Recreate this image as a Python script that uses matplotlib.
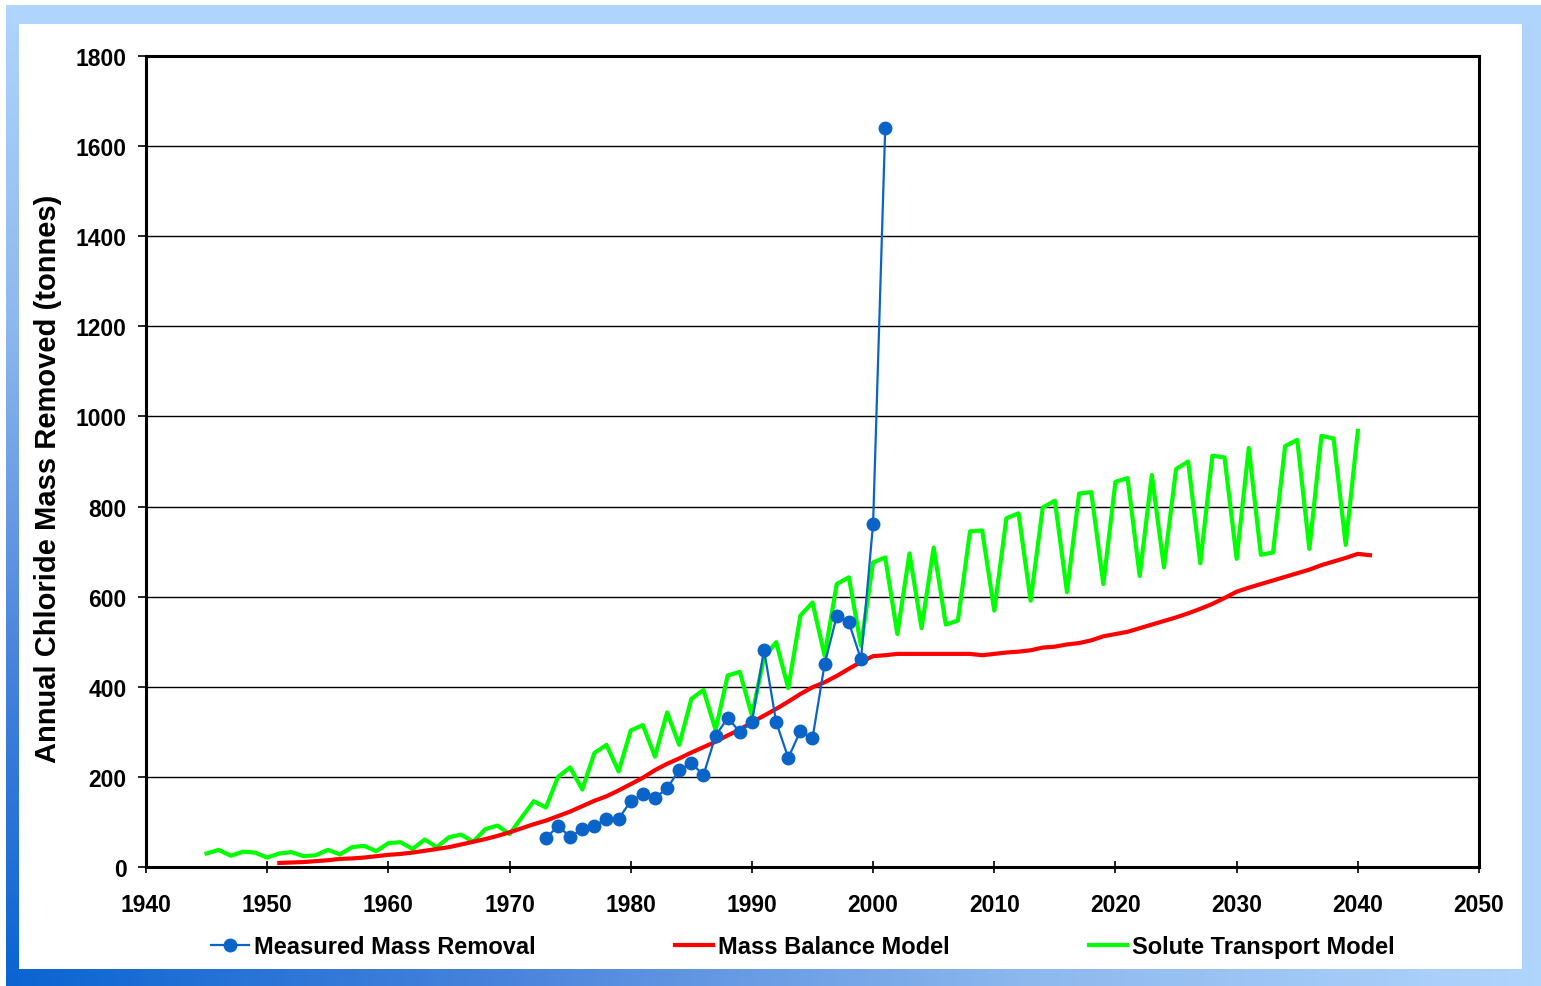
import numpy as np
import matplotlib
matplotlib.use("Agg")
import matplotlib.pyplot as plt
from matplotlib.colors import LinearSegmentedColormap
from matplotlib.patches import Rectangle

# ---- data (tonnes of chloride removed per year) ----
meas_years = list(range(1973, 2002))
meas_vals = [64, 91, 67, 84, 91, 107, 107, 146, 162, 153, 175, 215, 231, 204,
             291, 331, 300, 322, 482, 322, 242, 302, 286, 450, 557, 543, 461,
             762, 1640]

mb_years = list(range(1951, 2042))
mb_vals = [9, 10, 11, 13, 15, 18, 19, 21, 24, 27,
           29, 32, 36, 40, 44, 50, 56, 62, 69, 77,
           86, 95, 103, 113, 123, 135, 147, 157, 170, 184,
           198, 215, 229, 241, 254, 266, 278, 292, 305, 321,
           336, 351, 367, 384, 399, 410, 424, 440, 455, 468,
           470, 473, 473, 473, 473, 473, 473, 473, 470, 473,
           476, 478, 481, 487, 489, 494, 497, 503, 512, 517,
           522, 530, 538, 546, 554, 563, 573, 584, 597, 611,
           620, 628, 636, 644, 652, 660, 670, 678, 686, 695,
           692]

st_years = list(range(1945, 2041))
st_vals = [30, 38, 25, 34, 32, 21, 30, 33, 24, 26,
           38, 28, 44, 47, 35, 53, 55, 40, 61, 44,
           66, 72, 56, 84, 92, 73, 110, 146, 132, 200,
           221, 172, 253, 271, 212, 303, 315, 245, 343, 271,
           373, 393, 304, 425, 433, 336, 465, 499, 397, 558,
           587, 469, 628, 643, 491, 676, 687, 517, 696, 530,
           709, 538, 547, 745, 747, 569, 774, 785, 591, 798,
           813, 610, 829, 832, 628, 855, 863, 646, 870, 665,
           883, 900, 674, 913, 909, 684, 930, 693, 698, 934,
           948, 706, 957, 951, 715, 968]

plt.rcParams['font.family'] = ['Liberation Sans', 'DejaVu Sans']
plt.rcParams['font.weight'] = 'bold'

W, H = 1541, 987
fig = plt.figure(figsize=(W / 100, H / 100), dpi=100)

# ---- blue gradient frame ----
bg = fig.add_axes([0, 0, 1, 1])
xx, yy = np.meshgrid(np.linspace(0, 1, 400), np.linspace(1, 0, 260))
grad = np.maximum(xx, yy)
frame_cmap = LinearSegmentedColormap.from_list(
    'frame', ['#0A64D2', '#4A84DC', '#8DB8EE', '#B0D5FD'])
bg.imshow(grad, cmap=frame_cmap, aspect='auto', extent=[0, 1, 0, 1],
          interpolation='bilinear')
# the light top strip sits above the gradient
bg.add_patch(Rectangle((0, 1 - 25 / H), 1, 19 / H, color='#B0D5FD', lw=0))
bg.add_patch(Rectangle((0, 1 - 6 / H), 1, 6 / H, color='white', lw=0))
bg.add_patch(Rectangle((0, 0), 6 / W, 1, color='white', lw=0))
bg.add_patch(Rectangle((19 / W, 1 - 970 / H), (1522 - 19) / W, (970 - 25) / H,
                       color='white', lw=0))
bg.set_xlim(0, 1)
bg.set_ylim(0, 1)
bg.axis('off')

# ---- main plot ----
ax = fig.add_axes([146 / W, 1 - 868 / H, (1479 - 146) / W, (868 - 57) / H])
ax.set_facecolor('white')

ax.plot(st_years, st_vals, color='#00FF00', lw=3, label='Solute Transport Model',
        zorder=3)
ax.plot(mb_years, mb_vals, color='#FF0000', lw=3, label='Mass Balance Model',
        zorder=4)
ax.plot(meas_years, meas_vals, color='#0A64C8', lw=1.6, marker='o', ms=9,
        label='Measured Mass Removal', zorder=5)

ax.set_xlim(1940, 2050)
ax.set_ylim(0, 1800)
ax.set_xticks(range(1940, 2051, 10))
ax.set_yticks(range(0, 1801, 200))
ax.yaxis.grid(True, color='black', lw=1)
ax.set_axisbelow(True)

for s in ax.spines.values():
    s.set_linewidth(2.2)
    s.set_color('black')
ax.tick_params(axis='y', direction='out', length=6, width=1.2, labelsize=16.5,
               pad=8)
ax.tick_params(axis='x', direction='inout', length=9, width=1.2, labelsize=16.5,
               pad=14.5)
for lab in ax.get_xticklabels() + ax.get_yticklabels():
    lab.set_fontweight('bold')

ax.set_ylabel('Annual Chloride Mass Removed (tonnes)', fontsize=21,
              fontweight='bold')
ax.yaxis.set_label_coords(-0.063, 0.48)

# legend in the order the series are listed under the axes
h, l = ax.get_legend_handles_labels()
leg = fig.legend(h[::-1], l[::-1], loc='center',
                 bbox_to_anchor=(803 / W, 1 - 948 / H),
                 ncol=3, frameon=False, handlelength=1.6,
                 handletextpad=0.22, columnspacing=5.9,
                 prop={'weight': 'bold', 'size': 17})

plt.savefig('out.png', dpi=100)
